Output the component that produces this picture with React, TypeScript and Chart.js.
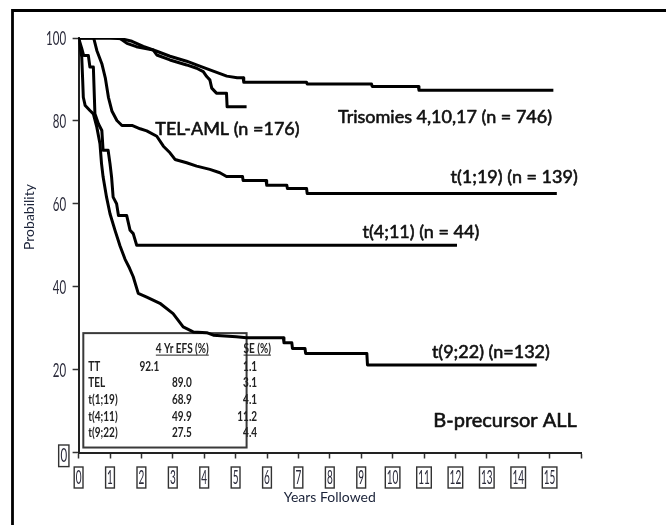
import { useEffect, useRef } from 'react';
import { Chart, registerables } from 'chart.js';

Chart.register(...registerables);

const FAMILY = 'Lato, "Open Sans", sans-serif';

// Event-free survival curves: years followed vs. probability (%)
const ttYears = [0, 1.0, 1.38, 1.7, 2.06, 2.49, 2.91, 3.44, 3.86, 4.29, 4.72, 5.05, 5.24, 5.26, 7.26, 7.28, 9.33, 9.35, 10.82, 10.84, 15.12];
const ttProb = [100, 100, 99.8, 99.2, 98.0, 96.8, 95.6, 94.4, 93.2, 92.0, 90.8, 90.4, 90.4, 89.3, 89.3, 88.9, 88.9, 88.3, 88.3, 87.4, 87.4];

const telYears = [0, 1.3, 1.54, 1.84, 2.38, 2.49, 2.91, 3.44, 3.76, 3.97, 4.08, 4.18, 4.24, 4.39, 4.71, 4.73, 5.35];
const telProb = [100, 100, 98.7, 97.9, 97.1, 95.9, 94.7, 93.5, 92.7, 91.9, 90.7, 89.9, 87.9, 86.7, 86.7, 83.4, 83.4];

const t119Years = [0, 0.48, 0.58, 0.74, 0.85, 0.95, 1.06, 1.22, 1.38, 1.7, 1.96, 2.17, 2.49, 2.7, 2.91, 3.07, 3.44, 3.76, 4.18, 4.5, 4.71, 5.22, 5.24, 5.97, 5.99, 6.63, 6.65, 7.26, 7.28, 15.23];
const t119Prob = [100, 100, 97.0, 93.8, 90.4, 85.7, 82.4, 80.1, 78.9, 78.9, 78.1, 77.6, 76.3, 73.9, 72.3, 70.7, 69.9, 69.1, 68.3, 67.5, 66.6, 66.6, 65.6, 65.6, 64.5, 64.5, 63.7, 63.7, 62.5, 62.5];

const t411Years = [0, 0.1, 0.16, 0.31, 0.36, 0.47, 0.52, 0.63, 0.74, 0.78, 0.94, 1.0, 1.05, 1.1, 1.21, 1.27, 1.53, 1.64, 1.74, 1.85, 12.05];
const t411Prob = [100, 97.5, 95.8, 95.8, 93.0, 93.0, 81.7, 79.3, 77.7, 72.9, 72.9, 69.7, 66.5, 61.6, 60.0, 57.2, 57.2, 53.6, 52.8, 50.0, 50.0];

const t922Years = [0, 0.1, 0.13, 0.15, 0.21, 0.36, 0.47, 0.58, 0.68, 0.73, 0.78, 0.89, 1.0, 1.16, 1.32, 1.48, 1.62, 1.74, 1.9, 2.17, 2.59, 3.01, 3.33, 3.65, 4.08, 4.29, 5.02, 5.35, 6.52, 6.54, 6.79, 6.81, 7.21, 7.23, 9.18, 9.2, 14.59];
const t922Prob = [100, 95.4, 89.8, 85.7, 83.7, 82.5, 81.7, 78.5, 74.5, 69.7, 66.5, 61.6, 57.6, 53.6, 49.8, 46.6, 44.5, 42.4, 38.4, 37.5, 36.0, 33.5, 30.3, 29.1, 28.9, 28.3, 27.9, 27.7, 27.7, 26.5, 26.5, 25.1, 25.1, 23.9, 23.9, 21.1, 21.1];

// Curve captions, anchored at their centre (years, probability)
const captionText = ['TEL-AML (n =176)', 'Trisomies 4,10,17 (n = 746)', 't(1;19) (n = 139)', 't(4;11) (n = 44)', 't(9;22) (n=132)', 'B-precursor ALL'];
const captionYear = [4.74, 11.67, 13.87, 10.9, 13.13, 13.58];
const captionProb = [78.0, 80.9, 66.5, 53.2, 24.2, 7.7];

// 4-year EFS summary table
const tableGroups = ['TT', 'TEL', 't(1;19)', 't(4;11)', 't(9;22)'];
const efs4Yr = ['92.1', '89.0', '68.9', '49.9', '27.5'];
const efsSE = ['1.1', '3.1', '4.1', '11.2', '4.4'];

// Axes
const xMaxYears = 16;
const xLastLabel = 15;
const yStep = 20;

const toPoints = (xs: number[], ys: number[]) => xs.map((x, i) => ({ x, y: ys[i] }));

const curve = (label: string, xs: number[], ys: number[]) => ({
  label,
  data: toPoints(xs, ys),
  borderColor: '#000',
  borderWidth: 3,
  pointRadius: 0,
  tension: 0,
  fill: false,
  borderJoinStyle: 'round' as const,
  borderCapStyle: 'butt' as const,
});

function stretchedText(ctx: CanvasRenderingContext2D, text: string, x: number, y: number, sy: number, align: CanvasTextAlign) {
  ctx.save();
  ctx.translate(x, y);
  ctx.scale(1, sy);
  ctx.textAlign = align;
  ctx.textBaseline = 'middle';
  ctx.fillText(text, 0, 0);
  ctx.restore();
}

const framePlugin = {
  id: 'pageFrame',
  beforeDraw(chart: any) {
    const ctx = chart.ctx as CanvasRenderingContext2D;
    ctx.save();
    ctx.fillStyle = '#fff';
    ctx.fillRect(0, 0, chart.width, chart.height);
    ctx.strokeStyle = '#000';
    ctx.lineWidth = 2.8;
    ctx.beginPath();
    ctx.moveTo(12.5, chart.height);
    ctx.lineTo(12.5, 10.5);
    ctx.lineTo(chart.width, 10.5);
    ctx.stroke();
    ctx.restore();
  },
};

const tablePlugin = {
  id: 'efsTable',
  beforeDatasetsDraw(chart: any) {
    const ctx = chart.ctx as CanvasRenderingContext2D;
    const xs = chart.scales.x;
    const ys = chart.scales.y;
    const left = xs.getPixelForValue(0.15);
    const right = xs.getPixelForValue(5.35);
    const top = ys.getPixelForValue(28.8);
    const bottom = ys.getPixelForValue(1.2);
    ctx.save();
    ctx.fillStyle = '#fff';
    ctx.fillRect(left, top, right - left, bottom - top);
    ctx.strokeStyle = '#3a3a3a';
    ctx.lineWidth = 2;
    ctx.strokeRect(left, top, right - left, bottom - top);

    ctx.fillStyle = '#222';
    ctx.strokeStyle = '#222';
    ctx.font = `bold 10px ${FAMILY}`;
    const sy = 1.25;
    const headY = top + 15.5;
    // header, underlined
    const efsHead = '4 Yr EFS (%)';
    const efsHeadX = left + 99;
    stretchedText(ctx, efsHead, efsHeadX, headY, sy, 'center');
    const w1 = ctx.measureText(efsHead).width;
    ctx.lineWidth = 1;
    ctx.beginPath();
    ctx.moveTo(efsHeadX - w1 / 2, headY + 6.5);
    ctx.lineTo(efsHeadX + w1 / 2, headY + 6.5);
    const seHead = 'SE (%)';
    const seHeadX = right - 3;
    const w2 = ctx.measureText(seHead).width;
    ctx.moveTo(seHeadX, headY + 6.5);
    ctx.lineTo(seHeadX + w2, headY + 6.5);
    ctx.stroke();
    stretchedText(ctx, seHead, seHeadX, headY, sy, 'left');

    tableGroups.forEach((g, i) => {
      const rowY = top + 33.5 + i * 16.7;
      stretchedText(ctx, g, left + 5, rowY, sy, 'left');
      const vx = i === 0 ? left + 66 : left + 98.5;
      stretchedText(ctx, efs4Yr[i], vx, rowY, sy, 'center');
      stretchedText(ctx, efsSE[i], right + 10.5, rowY, sy, 'right');
    });
    ctx.restore();
  },
};

const labelPlugin = {
  id: 'axisAndCaptions',
  afterDraw(chart: any) {
    const ctx = chart.ctx as CanvasRenderingContext2D;
    const xs = chart.scales.x;
    const ys = chart.scales.y;
    const area = chart.chartArea;
    ctx.save();

    // x tick labels, each in a small frame
    ctx.font = `10px ${FAMILY}`;
    xs.ticks.forEach((t: any) => {
      const v = t.value;
      if (v > xLastLabel) return;
      const px = xs.getPixelForValue(v);
      const txt = String(v);
      const w = ctx.measureText(txt).width;
      const cy = area.bottom + 25;
      ctx.fillStyle = '#2a2a3a';
      stretchedText(ctx, txt, px, cy, 2.0, 'center');
      ctx.strokeStyle = '#333';
      ctx.lineWidth = 1.4;
      ctx.strokeRect(px - w / 2 - 1.5, cy - 10.5, w + 3, 21);
    });

    // y tick labels
    ctx.font = `11.5px ${FAMILY}`;
    ys.ticks.forEach((t: any) => {
      const v = t.value;
      const py = ys.getPixelForValue(v);
      const txt = String(v);
      ctx.fillStyle = '#2a2a3a';
      if (v === 0) {
        const cx = area.left - 14.8;
        const cy = py + 3.3;
        const w = ctx.measureText(txt).width;
        stretchedText(ctx, txt, cx, cy, 1.6, 'center');
        ctx.strokeStyle = '#333';
        ctx.lineWidth = 1.4;
        ctx.strokeRect(cx - w / 2 - 1.8, cy - 10.8, w + 3.6, 21.6);
      } else {
        stretchedText(ctx, txt, area.left - 12.5, py + 1, 1.6, 'right');
      }
    });

    // y axis title
    ctx.fillStyle = '#1a2238';
    ctx.font = `14px ${FAMILY}`;
    ctx.save();
    ctx.translate(29, 217);
    ctx.rotate(-Math.PI / 2);
    ctx.textAlign = 'center';
    ctx.textBaseline = 'middle';
    ctx.fillText('Probability', 0, 0);
    ctx.restore();

    // curve captions, slightly heavier than the regular face
    ctx.fillStyle = '#111';
    ctx.strokeStyle = '#111';
    ctx.lineWidth = 0.6;
    ctx.lineJoin = 'round';
    ctx.textAlign = 'center';
    ctx.textBaseline = 'middle';
    captionText.forEach((txt, i) => {
      const size = i === captionText.length - 1 ? 20 : 18;
      ctx.font = `${size}px ${FAMILY}`;
      const px = xs.getPixelForValue(captionYear[i]);
      const py = ys.getPixelForValue(captionProb[i]);
      ctx.fillText(txt, px, py);
      ctx.strokeText(txt, px, py);
    });
    ctx.restore();
  },
};

export default function App() {
  const canvasRef = useRef<HTMLCanvasElement | null>(null);

  useEffect(() => {
    const canvas = canvasRef.current;
    if (!canvas) return;
    const chart = new Chart(canvas, {
      type: 'line',
      data: {
        datasets: [
          curve('Trisomies 4,10,17', ttYears, ttProb),
          curve('TEL-AML', telYears, telProb),
          curve('t(1;19)', t119Years, t119Prob),
          curve('t(4;11)', t411Years, t411Prob),
          curve('t(9;22)', t922Years, t922Prob),
        ],
      },
      options: {
        responsive: false,
        animation: false,
        events: [],
        layout: { padding: { left: 0, top: 38, right: 85, bottom: 0 } },
        plugins: {
          legend: { display: false },
          tooltip: { enabled: false },
        },
        scales: {
          x: {
            type: 'linear',
            min: 0,
            max: xMaxYears,
            ticks: { display: false, stepSize: 1, autoSkip: false },
            grid: { drawOnChartArea: false, drawTicks: true, tickLength: 6, tickWidth: 1.5, tickColor: '#333' },
            border: { display: true, color: '#222', width: 2 },
            title: {
              display: true,
              text: 'Years Followed',
              color: '#1a2238',
              font: { family: FAMILY, size: 14 },
              padding: { top: 0, bottom: 19.6 },
            },
            afterFit: (s: any) => {
              s.height = 72.5;
            },
          },
          y: {
            type: 'linear',
            min: 0,
            max: 100,
            ticks: { display: false, stepSize: yStep },
            grid: { drawOnChartArea: false, drawTicks: true, tickLength: 6, tickWidth: 1.5, tickColor: '#333' },
            border: { display: true, color: '#222', width: 2 },
            afterFit: (s: any) => {
              s.width = 78.6;
            },
          },
        },
      } as any,
      plugins: [framePlugin, tablePlugin, labelPlugin],
    });
    return () => chart.destroy();
  }, []);

  return (
    <div style={{ position: 'absolute', left: 0, top: 0, width: 666, height: 525, background: '#fff' }}>
      <canvas ref={canvasRef} width={666} height={525} />
    </div>
  );
}
